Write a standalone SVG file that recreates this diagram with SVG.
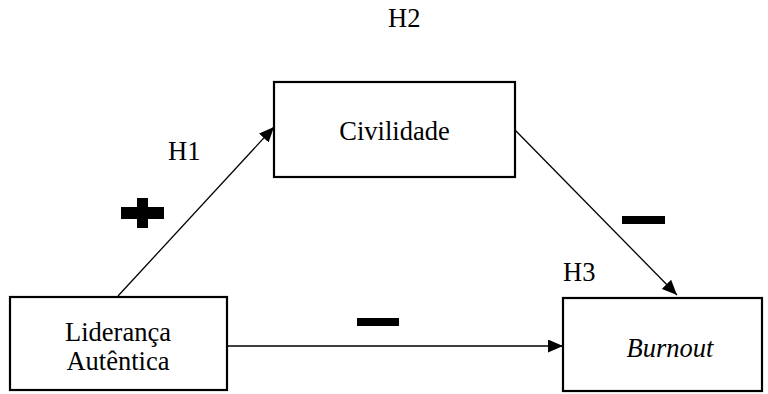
<svg xmlns="http://www.w3.org/2000/svg" width="768" height="394" viewBox="0 0 768 394">
  <style>
    .box { fill: #fff; stroke: #000; stroke-width: 2.2; }
    .lbl { font-family: 'Liberation Serif', 'DejaVu Serif', serif; font-size: 26.5px; fill: #000; }
    .mid { text-anchor: middle; }
    .edge { stroke: #000; stroke-width: 1.3; fill: none; marker-end: url(#arrow); }
    .sign { fill: #000; }
  </style>
  <defs>
    <marker id="arrow" viewBox="0 0 15 13" refX="15" refY="6.5" markerWidth="15" markerHeight="13" markerUnits="userSpaceOnUse" orient="auto">
      <path d="M0,0 L15,6.5 L0,13 Z" fill="#000"/>
    </marker>
  </defs>

  <g id="connectors">
    <line class="edge" x1="118" y1="296" x2="274" y2="127"/>
    <line class="edge" x1="515" y1="130" x2="677" y2="295"/>
    <line class="edge" x1="227" y1="346" x2="563" y2="346"/>
  </g>

  <g id="civilidade">
    <rect class="box" x="274" y="82" width="241" height="95"/>
    <text class="lbl mid" x="394.5" y="140">Civilidade</text>
  </g>

  <g id="lideranca">
    <rect class="box" x="10" y="297" width="217" height="93"/>
    <text class="lbl mid" x="118" y="341">Liderança</text>
    <text class="lbl mid" x="118" y="370">Autêntica</text>
  </g>

  <g id="burnout">
    <rect class="box" x="563" y="298" width="199" height="93"/>
    <text class="lbl mid" x="670" y="357" font-style="italic">Burnout</text>
  </g>

  <g id="labels">
    <text class="lbl" x="388" y="27">H2</text>
    <text class="lbl" x="168" y="160">H1</text>
    <text class="lbl" x="563" y="281">H3</text>
    <path class="sign" d="M137,198 H148 V207 H164 V219 H148 V228 H137 V219 H121 V207 H137 Z"/>
    <rect class="sign" x="622" y="216" width="43" height="8"/>
    <rect class="sign" x="357" y="318" width="42" height="8"/>
  </g>
</svg>
